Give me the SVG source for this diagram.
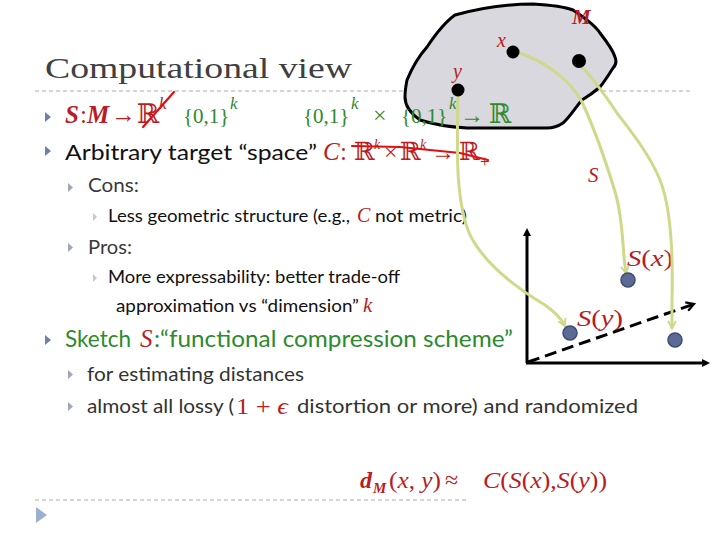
<svg xmlns="http://www.w3.org/2000/svg" width="720" height="540" viewBox="0 0 720 540">
<defs>
<style>
.sep{stroke:#aaaaaa;stroke-width:1;stroke-dasharray:4 3;fill:none}
.body{font-family:Lato,"Liberation Sans",sans-serif}
.math{font-family:"Liberation Serif","DejaVu Serif",serif}
.red{fill:#b81c24}
.grn{fill:#2e8a2e}
.b1{fill:#6e7fa8}
.b2{fill:#a0a8b8}
.b3{fill:#c8c8c8}
.sup{font-size:17px;font-style:italic}
.curve{fill:none;stroke:#d0d88a;stroke-width:3;stroke-linecap:round;marker-end:url(#yarrow)}
.axis{fill:none;stroke:#000;stroke-width:3}
.pt{fill:#5b6b95;stroke:#3e4a70;stroke-width:1.5}
.strike{fill:none;stroke:#e01010;stroke-width:2.2;stroke-linecap:round}
</style>
<marker id="yarrow" viewBox="0 0 10 10" refX="8" refY="5" markerWidth="10" markerHeight="10" markerUnits="userSpaceOnUse" orient="auto">
<path d="M1,1 L8,5 L1,9" fill="none" stroke="#d0d88a" stroke-width="2"/>
</marker>
<marker id="karrow" viewBox="0 0 10 10" refX="5" refY="5" markerWidth="10" markerHeight="10" markerUnits="userSpaceOnUse" orient="auto">
<path d="M1,1 L9,5 L1,9 Z" fill="#000"/>
</marker>
<marker id="darrow" viewBox="0 0 10 10" refX="8" refY="5" markerWidth="11" markerHeight="11" markerUnits="userSpaceOnUse" orient="auto">
<path d="M1,1 L8,5 L1,9" fill="none" stroke="#000" stroke-width="2"/>
</marker>
</defs>
<rect width="720" height="540" fill="#fff"/>

<g id="title">
<text x="45" y="78" font-family="'Liberation Serif',serif" font-size="29" fill="#404040" textLength="307" lengthAdjust="spacingAndGlyphs">Computational view</text>
<line class="sep" x1="35" y1="91" x2="690" y2="91"/>
<line class="sep" x1="35" y1="500" x2="468" y2="500"/>
<path d="M36,507 L47,515 L36,523 Z" fill="#9bb0d0"/>
</g>

<g id="space-M">
<path d="M455,15 C480,8 510,4 533,4 C550,5 565,7 573,10 C585,18 595,25 600,33 C607,42 613,50 615,57 C617,62 615,66 613,68 C608,76 604,82 600,87 C593,93 587,97 582,100 C575,108 570,117 563,123 C557,127 552,128 547,128 L467,128 C450,127 432,124 420,120 C410,113 405,105 405,97 C405,90 406,85 407,80 C412,68 418,57 427,47 C435,35 445,22 455,15 Z" fill="#d8d8de" stroke="#000" stroke-width="3" stroke-linejoin="round"/>
<text x="572" y="24" class="math red" font-size="21" font-style="italic" font-weight="bold">M</text>
<text x="497" y="47" class="math red" font-size="20" font-style="italic">x</text>
<text x="453" y="78" class="math red" font-size="20" font-style="italic">y</text>
</g>

<g id="bullets">
<path class="b1" d="M45,112 L51,117 L45,122 Z"/>
<path class="b1" d="M45,146 L51,151 L45,156 Z"/>
<path class="b2" d="M68,183 L73,187.5 L68,192 Z"/>
<path class="b3" d="M93,213 L97,217 L93,221 Z"/>
<path class="b2" d="M68,243 L73,247.5 L68,252 Z"/>
<path class="b3" d="M93,274 L97,278 L93,282 Z"/>
<path class="b1" d="M45,335 L51,340 L45,345 Z"/>
<path class="b2" d="M68,370 L73,374.5 L68,379 Z"/>
<path class="b2" d="M68,402 L73,406.5 L68,411 Z"/>
</g>

<g id="line1">
<text class="math red" font-size="25" y="123"><tspan x="65" font-style="italic" font-weight="bold">S</tspan><tspan x="80">:</tspan><tspan x="87" font-style="italic" font-weight="bold">M</tspan><tspan x="111">→</tspan><tspan x="137" font-size="27">ℝ</tspan><tspan class="sup" x="159" y="109">k</tspan></text>
<path class="strike" d="M143,127 L174,92"/>
<text class="math grn" font-size="21" x="183" y="123">{0,1}<tspan class="sup" x="230" y="109">k</tspan></text>
<text class="math grn" font-size="21" y="123"><tspan x="303">{0,1}</tspan><tspan class="sup" x="351" y="109">k</tspan><tspan x="373" y="123" font-size="24">×</tspan><tspan x="401">{0,1}</tspan><tspan class="sup" x="449" y="109">k</tspan><tspan x="460" y="123" font-size="24">→</tspan><tspan x="489" font-size="27">ℝ</tspan></text>
</g>

<g id="line2">
<text class="body" font-size="22" fill="#111" x="65" y="160" textLength="252" lengthAdjust="spacingAndGlyphs">Arbitrary target “space”</text>
<text class="math red" font-size="25" y="160"><tspan x="323" font-style="italic">C</tspan><tspan x="340">:</tspan><tspan x="354">ℝ</tspan><tspan x="374" y="149" font-size="14" font-style="italic">k</tspan><tspan x="384" y="160" font-size="24">×</tspan><tspan x="400">ℝ</tspan><tspan x="420" y="149" font-size="14" font-style="italic">k</tspan><tspan x="431" y="160" font-size="24">→</tspan><tspan x="459">ℝ</tspan><tspan x="480" y="167" font-size="17">+</tspan></text>
<path class="strike" d="M352,146 L400,147 L430,150 L460,153 L488,160"/>
</g>

<g id="cons">
<text class="body" font-size="19" fill="#3a3a3a" x="88" y="192" textLength="51" lengthAdjust="spacingAndGlyphs">Cons:</text>
<text class="body" font-size="17" fill="#111" x="108" y="222" textLength="242" lengthAdjust="spacingAndGlyphs">Less geometric structure (e.g.,</text>
<text class="math red" font-size="20" font-style="italic" x="357" y="222">C</text>
<text class="body" font-size="17" fill="#111" x="375" y="222" textLength="92" lengthAdjust="spacingAndGlyphs">not metric)</text>
</g>

<g id="pros">
<text class="body" font-size="19" fill="#3a3a3a" x="88" y="254" textLength="44" lengthAdjust="spacingAndGlyphs">Pros:</text>
<text class="body" font-size="17" fill="#111" x="108" y="283" textLength="292" lengthAdjust="spacingAndGlyphs">More expressability: better trade-off</text>
<text class="body" font-size="17" fill="#111" x="116" y="312" textLength="243" lengthAdjust="spacingAndGlyphs">approximation vs “dimension”</text>
<text class="math red" font-size="21" font-style="italic" x="363" y="312">k</text>
</g>

<g id="sketch">
<text class="body grn" font-size="24" x="65" y="347" textLength="66" lengthAdjust="spacingAndGlyphs">Sketch</text>
<text class="math red" font-size="25" font-style="italic" x="140" y="347">S</text>
<text class="body grn" font-size="24" x="154" y="347" textLength="359" lengthAdjust="spacingAndGlyphs">:“functional compression scheme”</text>
<text class="body" font-size="19" fill="#333" x="87" y="381" textLength="217" lengthAdjust="spacingAndGlyphs">for estimating distances</text>
<text class="body" font-size="19" fill="#333" x="87" y="413" textLength="147" lengthAdjust="spacingAndGlyphs">almost all lossy (</text>
<text class="math red" font-size="24" x="236" y="414" textLength="52" lengthAdjust="spacingAndGlyphs">1 + <tspan font-style="italic">ϵ</tspan></text>
<text class="body" font-size="19" fill="#333" x="297" y="413" textLength="341" lengthAdjust="spacingAndGlyphs">distortion or more) and randomized</text>
</g>

<g id="formula">
<text class="math red" font-size="24" font-style="italic" font-weight="bold" x="360" y="488">d</text>
<text class="math red" font-size="15" font-style="italic" font-weight="bold" x="373" y="493">M</text>
<text class="math red" font-size="24" x="389" y="488" textLength="52" lengthAdjust="spacingAndGlyphs">(<tspan font-style="italic">x</tspan>, <tspan font-style="italic">y</tspan>)</text>
<text class="math red" font-size="24" x="445" y="488">≈</text>
<text class="math red" font-size="24" x="483" y="488" textLength="124" lengthAdjust="spacingAndGlyphs"><tspan font-style="italic">C</tspan>(<tspan font-style="italic">S</tspan>(<tspan font-style="italic">x</tspan>),<tspan font-style="italic">S</tspan>(<tspan font-style="italic">y</tspan>))</text>
</g>

<g id="labels">
<text class="math red" font-size="21" font-style="italic" x="588" y="182">S</text>
<text class="math red" font-size="24" x="627" y="266" textLength="46" lengthAdjust="spacingAndGlyphs"><tspan font-style="italic">S</tspan>(<tspan font-style="italic">x</tspan>)</text>
<text class="math red" font-size="24" x="577" y="326" textLength="46" lengthAdjust="spacingAndGlyphs"><tspan font-style="italic">S</tspan>(<tspan font-style="italic">y</tspan>)</text>
</g>

<g id="connectors">
<path class="axis" d="M527,363 L527,232" marker-end="url(#karrow)"/>
<path class="axis" d="M526,363 L706,363" marker-end="url(#karrow)"/>
<path d="M528,362 L694,304" fill="none" stroke="#000" stroke-width="3" stroke-dasharray="12 6" marker-end="url(#darrow)"/>
<path class="curve" d="M458,92 C457,150 455,200 470,235 C485,265 520,290 545,305 C555,312 561,318 565,326"/>
<path class="curve" d="M513,51 C545,60 570,80 582,102 C595,130 607,165 616,195 C624,225 622,250 626,273"/>
<path class="curve" d="M580,65 C590,75 605,95 617,113 C630,130 650,155 660,180 C672,210 673,260 672,300 L672,328"/>
</g>

<g id="points">
<circle cx="513" cy="52" r="6.5" fill="#000"/>
<circle cx="579" cy="61" r="7" fill="#000"/>
<circle cx="458" cy="90" r="6.5" fill="#000"/>
<circle class="pt" cx="570" cy="333" r="7"/>
<circle class="pt" cx="628" cy="280" r="7"/>
<circle class="pt" cx="675" cy="340" r="7"/>
</g>
</svg>
